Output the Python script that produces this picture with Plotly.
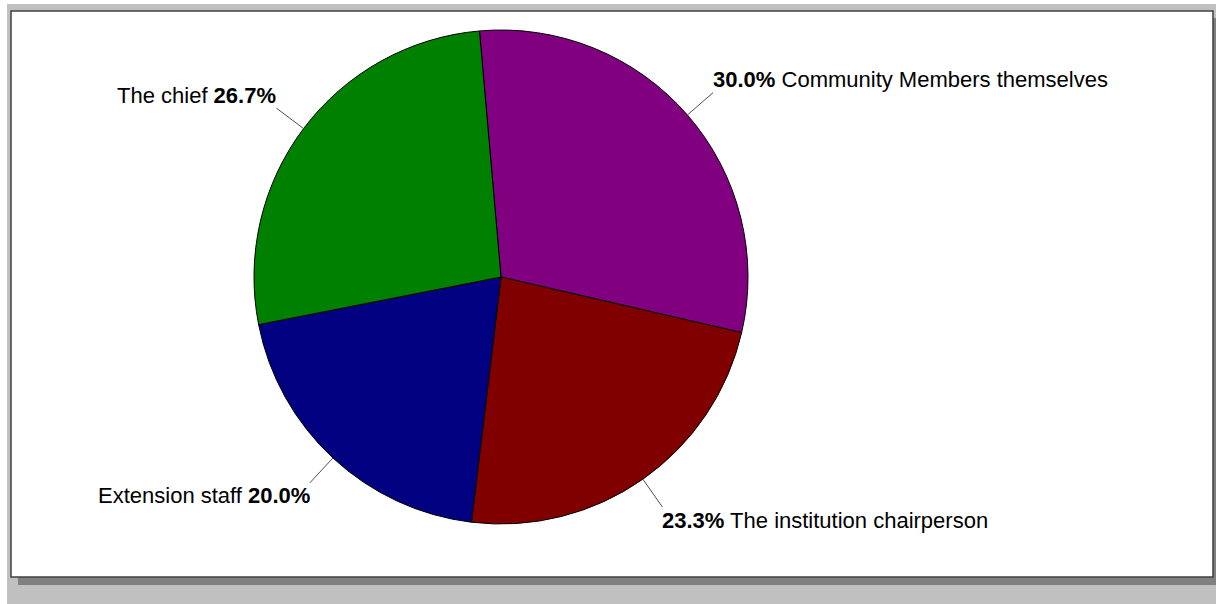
import math
import plotly.graph_objects as go

# Survey responses: who decides in the community (percent of respondents)
labels = ["Community Members themselves", "The institution chairperson",
          "Extension staff", "The chief"]
values = [30.0, 23.3, 20.0, 26.7]
colors = ["#800080", "#800000", "#000080", "#008000"]
# label placement: True -> percentage written before the name
pct_first = [True, True, False, False]

W, H = 1216, 604
CX, CY, R = 501, 277, 247        # pie centre and radius in pixels
ROTATION = -5                    # first slice starts 5 degrees left of 12 o'clock
LEADER_R = 281                   # outer end of leader lines
FONT = "Liberation Sans, Arial, sans-serif"


def px(x):
    return x / W


def py(y):
    return 1 - y / H


fig = go.Figure()
fig.add_trace(go.Pie(
    labels=labels,
    values=values,
    marker=dict(colors=colors, line=dict(color="#000000", width=1)),
    sort=False,
    direction="clockwise",
    rotation=ROTATION,
    textinfo="none",
    hoverinfo="skip",
    showlegend=False,
    domain=dict(x=[px(CX - R), px(CX + R)], y=[py(CY + R), py(CY - R)]),
))

shapes = [
    # outer grey frame
    dict(type="rect", xref="paper", yref="paper", x0=px(7), x1=1, y0=0, y1=py(4),
         fillcolor="#c0c0c0", line=dict(width=0), layer="below"),
    # drop shadow of the panel
    dict(type="rect", xref="paper", yref="paper", x0=px(18), x1=1, y0=py(585), y1=py(18),
         fillcolor="#808080", line=dict(width=0), layer="below"),
    # white chart panel
    dict(type="rect", xref="paper", yref="paper", x0=px(11), x1=px(1213), y0=py(577), y1=py(11),
         fillcolor="#ffffff", line=dict(color="#404040", width=1.5), layer="below"),
]

annotations = []
total = sum(values)
start = ROTATION
for lab, val, first in zip(labels, values, pct_first):
    span = 360 * val / total
    mid = math.radians(start + span / 2)
    start += span
    sx, sy = math.sin(mid), -math.cos(mid)
    x0, y0 = CX + R * sx, CY + R * sy
    x1, y1 = CX + LEADER_R * sx, CY + LEADER_R * sy
    shapes.append(dict(type="line", xref="paper", yref="paper",
                       x0=px(x0), y0=py(y0), x1=px(x1), y1=py(y1),
                       line=dict(color="#505050", width=1)))
    pct = f"<b>{val:.1f}%</b>"
    text = f"{pct} {lab}" if first else f"{lab} {pct}"
    annotations.append(dict(
        x=px(x1), y=py(y1), xref="paper", yref="paper",
        text=text, showarrow=False,
        xanchor="left" if sx > 0 else "right",
        xshift=-2 if sx > 0 else 2,
        yanchor="middle",
        yshift=13 if sy < 0 else -13,
        font=dict(family=FONT, size=22, color="#000000"),
    ))

fig.update_layout(
    width=W, height=H,
    margin=dict(l=0, r=0, t=0, b=0),
    paper_bgcolor="#ffffff",
    plot_bgcolor="#ffffff",
    shapes=shapes,
    annotations=annotations,
)

fig.write_html("out.html", config={"displayModeBar": False})
